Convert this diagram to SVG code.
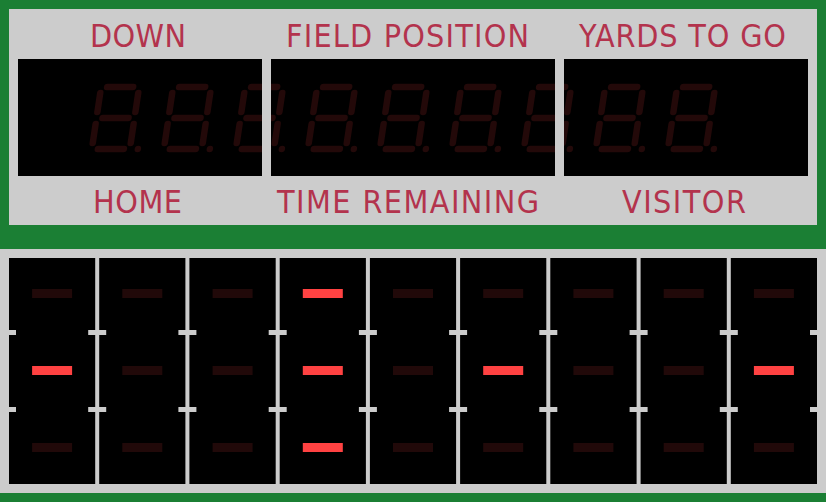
<svg xmlns="http://www.w3.org/2000/svg" width="826" height="502" viewBox="0 0 826 502">
<style>
.panel{fill:#cccccc}
.screen{fill:#000000}
.lbl{font-family:"DejaVu Sans Condensed","DejaVu Sans",sans-serif;font-stretch:condensed;font-size:32px;fill:#b3334d;text-anchor:middle}
.seg{stroke:#230909;stroke-width:6.5;stroke-linecap:round;fill:none}
.dp{fill:#230909}
.div{fill:#cccccc}
.on{fill:#ff4242}
.off{fill:#210909}
</style>
<defs>
<g id="digit">
<line class="seg" x1="-13" y1="-31" x2="13" y2="-31"/>
<line class="seg" x1="-13" y1="0" x2="13" y2="0"/>
<line class="seg" x1="-13" y1="31" x2="13" y2="31"/>
<line class="seg" x1="-19" y1="-25" x2="-19" y2="-6"/>
<line class="seg" x1="19" y1="-25" x2="19" y2="-6"/>
<line class="seg" x1="-19" y1="6" x2="-19" y2="25"/>
<line class="seg" x1="19" y1="6" x2="19" y2="25"/>
<circle class="dp" cx="27" cy="31" r="3.2"/>
</g>
<clipPath id="screens">
<rect x="18" y="59" width="244" height="117"/>
<rect x="271" y="59" width="284" height="117"/>
<rect x="564" y="59" width="244" height="117"/>
</clipPath>
</defs>
<rect width="826" height="502" fill="#1b7f34"/>
<g id="top-panel">
<rect class="panel" x="9" y="9" width="808" height="216"/>
</g>
<g id="display-down"><rect class="screen" x="18" y="59" width="244" height="117"/></g>
<g id="display-field"><rect class="screen" x="271" y="59" width="284" height="117"/></g>
<g id="display-yards"><rect class="screen" x="564" y="59" width="244" height="117"/></g>
<g id="digits" clip-path="url(#screens)">
<use href="#digit" transform="translate(115.5 118) skewX(-8.5)"/>
<use href="#digit" transform="translate(187.5 118) skewX(-8.5)"/>
<use href="#digit" transform="translate(259.5 118) skewX(-8.5)"/>
<use href="#digit" transform="translate(331.5 118) skewX(-8.5)"/>
<use href="#digit" transform="translate(403.5 118) skewX(-8.5)"/>
<use href="#digit" transform="translate(475.5 118) skewX(-8.5)"/>
<use href="#digit" transform="translate(547.5 118) skewX(-8.5)"/>
<use href="#digit" transform="translate(619.5 118) skewX(-8.5)"/>
<use href="#digit" transform="translate(691.5 118) skewX(-8.5)"/>
</g>
<g id="labels">
<text class="lbl" x="138" y="47" textLength="96">DOWN</text>
<text class="lbl" x="407.5" y="47" textLength="243">FIELD POSITION</text>
<text class="lbl" x="682.5" y="47" textLength="207">YARDS TO GO</text>
<text class="lbl" x="137.5" y="213" textLength="89">HOME</text>
<text class="lbl" x="408" y="213" textLength="262">TIME REMAINING</text>
<text class="lbl" x="684" y="213" textLength="124">VISITOR</text>
</g>
<g id="bottom-panel">
<rect class="panel" x="0" y="249" width="826" height="244"/>
<rect class="screen" x="9" y="258" width="808" height="226"/>
</g>
<g id="dividers">
<rect class="div" x="95.2" y="258" width="4" height="226"/>
<rect class="div" x="185.4" y="258" width="4" height="226"/>
<rect class="div" x="275.7" y="258" width="4" height="226"/>
<rect class="div" x="365.9" y="258" width="4" height="226"/>
<rect class="div" x="456.1" y="258" width="4" height="226"/>
<rect class="div" x="546.3" y="258" width="4" height="226"/>
<rect class="div" x="636.6" y="258" width="4" height="226"/>
<rect class="div" x="726.8" y="258" width="4" height="226"/>
<rect class="div" x="9" y="330" width="7" height="5"/>
<rect class="div" x="9" y="407" width="7" height="5"/>
<rect class="div" x="810" y="330" width="7" height="5"/>
<rect class="div" x="810" y="407" width="7" height="5"/>
<rect class="div" x="88.2" y="330" width="18" height="5"/><rect class="div" x="88.2" y="407" width="18" height="5"/>
<rect class="div" x="178.4" y="330" width="18" height="5"/><rect class="div" x="178.4" y="407" width="18" height="5"/>
<rect class="div" x="268.7" y="330" width="18" height="5"/><rect class="div" x="268.7" y="407" width="18" height="5"/>
<rect class="div" x="358.9" y="330" width="18" height="5"/><rect class="div" x="358.9" y="407" width="18" height="5"/>
<rect class="div" x="449.1" y="330" width="18" height="5"/><rect class="div" x="449.1" y="407" width="18" height="5"/>
<rect class="div" x="539.3" y="330" width="18" height="5"/><rect class="div" x="539.3" y="407" width="18" height="5"/>
<rect class="div" x="629.6" y="330" width="18" height="5"/><rect class="div" x="629.6" y="407" width="18" height="5"/>
<rect class="div" x="719.8" y="330" width="18" height="5"/><rect class="div" x="719.8" y="407" width="18" height="5"/>
</g>
<g id="col1"><rect class="off" x="32.1" y="289" width="40" height="9"/><rect class="on" x="32.1" y="366" width="40" height="9"/><rect class="off" x="32.1" y="443" width="40" height="9"/></g>
<g id="col2"><rect class="off" x="122.3" y="289" width="40" height="9"/><rect class="off" x="122.3" y="366" width="40" height="9"/><rect class="off" x="122.3" y="443" width="40" height="9"/></g>
<g id="col3"><rect class="off" x="212.6" y="289" width="40" height="9"/><rect class="off" x="212.6" y="366" width="40" height="9"/><rect class="off" x="212.6" y="443" width="40" height="9"/></g>
<g id="col4"><rect class="on" x="302.8" y="289" width="40" height="9"/><rect class="on" x="302.8" y="366" width="40" height="9"/><rect class="on" x="302.8" y="443" width="40" height="9"/></g>
<g id="col5"><rect class="off" x="393" y="289" width="40" height="9"/><rect class="off" x="393" y="366" width="40" height="9"/><rect class="off" x="393" y="443" width="40" height="9"/></g>
<g id="col6"><rect class="off" x="483.2" y="289" width="40" height="9"/><rect class="on" x="483.2" y="366" width="40" height="9"/><rect class="off" x="483.2" y="443" width="40" height="9"/></g>
<g id="col7"><rect class="off" x="573.4" y="289" width="40" height="9"/><rect class="off" x="573.4" y="366" width="40" height="9"/><rect class="off" x="573.4" y="443" width="40" height="9"/></g>
<g id="col8"><rect class="off" x="663.7" y="289" width="40" height="9"/><rect class="off" x="663.7" y="366" width="40" height="9"/><rect class="off" x="663.7" y="443" width="40" height="9"/></g>
<g id="col9"><rect class="off" x="753.9" y="289" width="40" height="9"/><rect class="on" x="753.9" y="366" width="40" height="9"/><rect class="off" x="753.9" y="443" width="40" height="9"/></g>
</svg>
